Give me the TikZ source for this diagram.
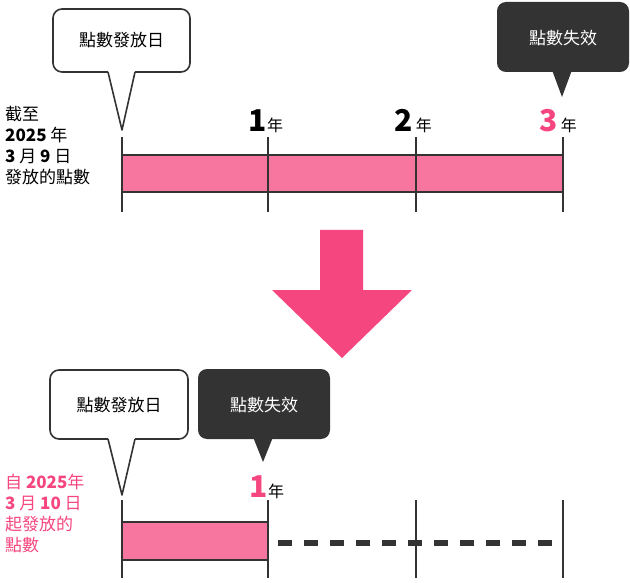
\documentclass[tikz,border=0pt]{standalone}
\usepackage{fontspec}
\setmainfont{Noto Sans CJK TC}
\definecolor{barpink}{HTML}{F7769F}
\definecolor{keypink}{HTML}{F5467F}
\definecolor{darkbox}{HTML}{333333}
\tikzset{
  whitecall/.style={draw=darkbox, line width=1.6pt, fill=white, line join=round},
  darkcall/.style={fill=darkbox, draw=none},
  tick/.style={line width=1.2pt, darkbox},
  yearnum/.style={font=\fontsize{30}{30}\selectfont\bfseries, inner sep=0pt},
  yearword/.style={font=\fontsize{16}{16}\selectfont, inner sep=0pt},
  calltext/.style={font=\fontsize{17}{17}\selectfont, inner sep=0pt},
  sidetext/.style={font=\fontsize{17}{21}\selectfont, align=left, anchor=north west, inner sep=0pt}
}
\begin{document}
\begin{tikzpicture}[x=1pt,y=-1pt]
\useasboundingbox (0,0) rectangle (630,583);

% top timeline
\draw[whitecall, rounded corners=9pt] (108,72) -- (53,72) -- (53,9) -- (190,9) -- (190,72) -- (135,72);
\draw[whitecall] (108,72) -- (122,130) -- (135,72);
\node[calltext] (giveA) at (121.5,40) {點數發放日};
\fill[darkcall, rounded corners=9pt] (497,2) rectangle (629,72);
\fill[darkcall] (552,70) -- (562,97) -- (572,70) -- cycle;
\node[calltext, white] (loseA) at (563,38) {點數失效};

\node[sidetext] (noteA) at (5,106) {截至\\{\bfseries 2025} 年\\{\bfseries 3} 月 {\bfseries 9} 日\\發放的點數};

\fill[barpink] (122,155) rectangle (563,192);
\draw[line width=1.6pt, darkbox] (122,155) rectangle (563,192);
\foreach \x in {122,268,416,563}
  \draw[tick] (\x,137) -- (\x,212);
\node[yearnum, anchor=base east] (yA1) at (267,132) {1};
\node[yearword, anchor=base west] at (yA1.base east) {年};
\node[yearnum, anchor=base east] (yA2) at (413,132) {2};
\node[yearword, anchor=base west] at (yA2.base east) {\,年};
\node[yearnum, anchor=base east, keypink] (yA3) at (558,132) {3};
\node[yearword, anchor=base west] at (yA3.base east) {\,年};

% big arrow
\fill[keypink] (320,230) -- (363,230) -- (363,290) -- (412,290) -- (342,358) -- (272,290) -- (320,290) -- cycle;

% bottom timeline
\draw[whitecall, rounded corners=9pt] (108,439) -- (50,439) -- (50,370) -- (188,370) -- (188,439) -- (135,439);
\draw[whitecall] (108,439) -- (122,495) -- (135,439);
\node[calltext] (giveB) at (119,405) {點數發放日};
\fill[darkcall, rounded corners=9pt] (198,369) rectangle (330,439);
\fill[darkcall] (253,437) -- (263,462) -- (273,437) -- cycle;
\node[calltext, white] (loseB) at (264,405) {點數失效};

\node[sidetext, keypink] (noteB) at (5,474) {自 {\bfseries 2025}年\\{\bfseries 3} 月 {\bfseries 10} 日\\起發放的\\點數};

\fill[barpink] (122,522) rectangle (268,560);
\draw[line width=1.6pt, darkbox] (122,522) rectangle (268,560);
\foreach \x in {122,268,416,563}
  \draw[tick] (\x,500) -- (\x,578);
\draw[darkbox, line width=6pt, dash pattern=on 14pt off 12pt] (278,543) -- (563,543);
\node[yearnum, anchor=base east, keypink] (yB1) at (268,497) {1};
\node[yearword, anchor=base west] at (yB1.base east) {年};
\end{tikzpicture}
\end{document}
